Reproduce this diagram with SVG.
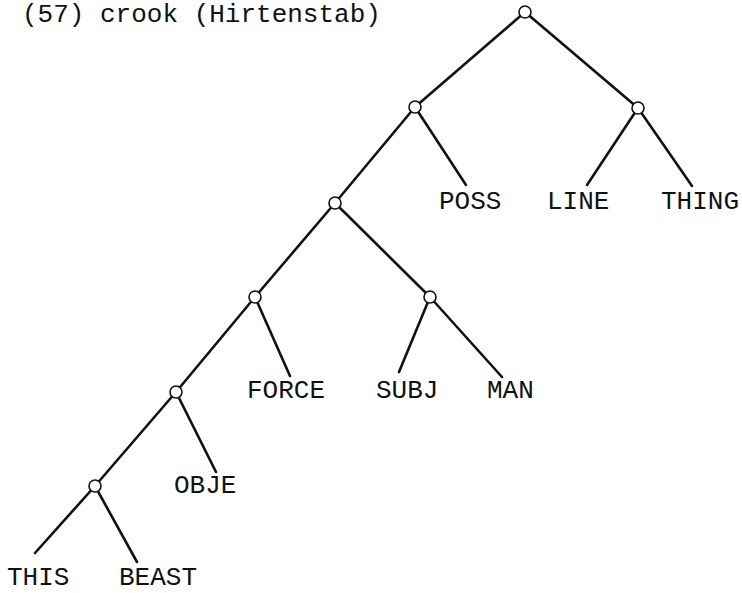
<svg xmlns="http://www.w3.org/2000/svg" width="742" height="593" viewBox="0 0 742 593">
  <style>
    .edge { stroke: #111; stroke-width: 2.6; stroke-linecap: round; fill: none; }
    .node circle { fill: #fff; stroke: #111; stroke-width: 1.6; }
    text { font-family: "Liberation Mono", "Courier New", monospace; font-size: 26px; fill: #111; }
  </style>
  <rect width="742" height="593" fill="#fff"/>

  <text id="title" x="22" y="22">(57) crook (Hirtenstab)</text>

  <!-- connectors -->
  <g id="edges">
    <line class="edge" x1="525" y1="12" x2="415" y2="107"/>
    <line class="edge" x1="525" y1="12" x2="638" y2="108"/>
    <line class="edge" x1="415" y1="107" x2="335" y2="203"/>
    <line class="edge" x1="415" y1="107" x2="466" y2="185"/>
    <line class="edge" x1="638" y1="108" x2="587" y2="185"/>
    <line class="edge" x1="638" y1="108" x2="692" y2="186"/>
    <line class="edge" x1="335" y1="203" x2="255" y2="297"/>
    <line class="edge" x1="335" y1="203" x2="430" y2="297"/>
    <line class="edge" x1="255" y1="297" x2="176" y2="392"/>
    <line class="edge" x1="255" y1="297" x2="290" y2="376"/>
    <line class="edge" x1="430" y1="297" x2="399" y2="372"/>
    <line class="edge" x1="430" y1="297" x2="502" y2="377"/>
    <line class="edge" x1="176" y1="392" x2="95" y2="486"/>
    <line class="edge" x1="176" y1="392" x2="216" y2="472"/>
    <line class="edge" x1="95" y1="486" x2="35" y2="553"/>
    <line class="edge" x1="95" y1="486" x2="137" y2="562"/>
  </g>

  <!-- inner nodes -->
  <g id="n-root" class="node"><circle cx="525" cy="12" r="6"/></g>
  <g id="n-1" class="node"><circle cx="415" cy="107" r="6"/></g>
  <g id="n-2" class="node"><circle cx="638" cy="108" r="6"/></g>
  <g id="n-3" class="node"><circle cx="335" cy="203" r="6"/></g>
  <g id="n-4" class="node"><circle cx="255" cy="297" r="6"/></g>
  <g id="n-5" class="node"><circle cx="430" cy="297" r="6"/></g>
  <g id="n-6" class="node"><circle cx="176" cy="392" r="6"/></g>
  <g id="n-7" class="node"><circle cx="95" cy="486" r="6"/></g>

  <!-- leaves -->
  <g id="leaf-poss"><text x="439" y="209">POSS</text></g>
  <g id="leaf-line"><text x="547" y="209">LINE</text></g>
  <g id="leaf-thing"><text x="661" y="209">THING</text></g>
  <g id="leaf-force"><text x="247" y="398">FORCE</text></g>
  <g id="leaf-subj"><text x="376" y="398">SUBJ</text></g>
  <g id="leaf-man"><text x="487" y="398">MAN</text></g>
  <g id="leaf-obje"><text x="174" y="493">OBJE</text></g>
  <g id="leaf-this"><text x="7" y="585">THIS</text></g>
  <g id="leaf-beast"><text x="119" y="585">BEAST</text></g>
</svg>
